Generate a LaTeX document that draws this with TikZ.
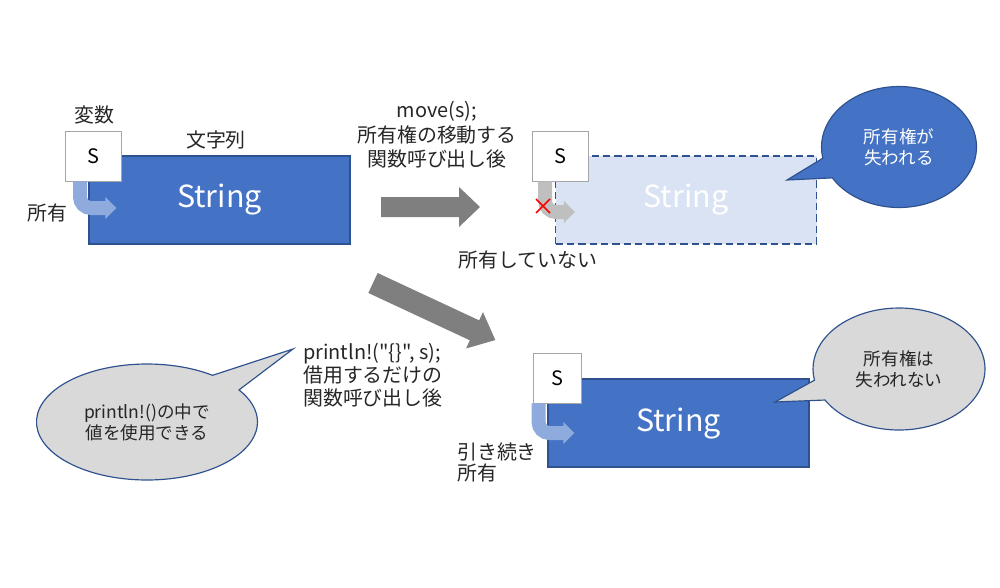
\documentclass[tikz,border=0pt]{standalone}
\usepackage{fontspec}
\setmainfont{Noto Sans CJK JP}
\newfontfamily\plaincjk{Noto Sans CJK JP}
\usetikzlibrary{shapes.callouts,shapes.geometric,arrows.meta,calc}
\definecolor{blueF}{HTML}{4472C4}
\definecolor{blueD}{HTML}{2F528F}
\definecolor{blueL}{HTML}{DAE3F3}
\definecolor{arrowL}{HTML}{8FAADC}
\definecolor{greyA}{HTML}{7F7F7F}
\definecolor{greyB}{HTML}{BFBFBF}
\definecolor{greyC}{HTML}{D9D9D9}
\definecolor{boxB}{HTML}{A6A6A6}
\definecolor{txt}{HTML}{262626}
\begin{document}
\begin{tikzpicture}[x=0.3mm,y=-0.3mm,
  strbox/.style={draw=blueD, line width=1pt, fill=blueF, text=white, inner sep=0,
    font=\fontsize{26}{30}\selectfont, minimum width=0.3mm*261, minimum height=0.3mm*88},
  ghostbox/.style={strbox, fill=blueL, dash pattern=on 2.2mm off 1.2mm},
  sbox/.style={draw=boxB, line width=0.8pt, fill=white, inner sep=0, text=black,
    font=\fontsize{17}{20}\selectfont, minimum width=0.3mm*56, minimum height=0.3mm*50},
  lbl/.style={inner sep=0, text=txt, font=\fontsize{17}{21}\selectfont, align=center},
  bent/.style={line width=0.3mm*14, rounded corners=0.3mm*11, line cap=butt,
    -{Triangle[length=0.3mm*11,width=0.3mm*21]}},
  callt/.style={ellipse callout, draw=blueD, line width=1pt, inner sep=0, align=center,
    font=\fontsize{15}{18}\selectfont, callout pointer arc=20},
  bigarrow/.style={fill=greyA}
]
\useasboundingbox (0,0) rectangle (1000,587);

% ---- left group
\node[strbox] (str1) at (219.5,200) {String};
\node[sbox] (s1) at (93.5,156) {S};
\draw[bent, arrowL] ($(s1.south west)+(15,0)$) |- ($(str1.west)+(28,8)$);
\node[lbl] (lvar) at (94,115) {変数};
\node[lbl] (lstr) at (216,140) {文字列};
\node[lbl] (lown1) at (47,213) {所有};

% ---- move arrow
\begin{scope}[shift={(381,207)}]
  \fill[bigarrow] (0,-10) -- (78,-10) -- (78,-20) -- (99,0) -- (78,20) -- (78,10) -- (0,10) -- cycle;
\end{scope}
\node[lbl] (lmove) at (437,135) {move(s);\\所有権の移動する\\関数呼び出し後};

% ---- moved group
\node[ghostbox] (str2) at (686,200) {String};
\node[sbox] (s2) at (560.5,156) {S};
\draw[bent, greyB] ($(s2.south west)+(13,0)$) |- ($(str2.west)+(20,12)$);
\coordinate (xc) at (543,206);
\draw[red, line width=1.3pt] ($(xc)+(-7,-7)$) -- ($(xc)+(7,7)$) ($(xc)+(-7,7)$) -- ($(xc)+(7,-7)$);
\node[lbl] (lnot) at (528,260) {所有していない};
\node[callt, fill=blueF, text=white, minimum width=0.3mm*155, minimum height=0.3mm*121,
  callout absolute pointer={(787,180)}] (c1) at (899,147) {所有権が\\失われる};

% ---- borrow arrow
\begin{scope}[shift={(373,283)}, rotate=-25]
  \fill[bigarrow] (0,-11) -- (112,-11) -- (112,-20) -- (135,0) -- (112,20) -- (112,11) -- (0,11) -- cycle;
\end{scope}
\node[lbl, anchor=west, align=left, font=\plaincjk\fontsize{17}{19.6}\selectfont] (lprint) at (303,375)
  {println!(\char"22\{\}\char"22, s);\\借用するだけの\\関数呼び出し後};

% ---- borrowed group
\node[strbox] (str3) at (678.5,423) {String};
\node[sbox, minimum width=0.3mm*48] (s3) at (557,378) {S};
\draw[bent, arrowL] ($(s3.south west)+(6,0)$) |- ($(str3.west)+(27,10)$);
\node[lbl, anchor=west, align=left, font=\fontsize{17}{18}\selectfont] (lkeep) at (457,462.5) {引き続き\\所有};
\node[callt, fill=greyC, text=txt, minimum width=0.3mm*172, minimum height=0.3mm*122,
  callout absolute pointer={(775,402)}] (c2) at (899,369) {所有権は\\失われない};
\node[callt, fill=greyC, text=txt, minimum width=0.3mm*221, minimum height=0.3mm*116,
  callout absolute pointer={(293,349)}] (c3) at (147,422) {println!()の中で\\値を使用できる};
\end{tikzpicture}
\end{document}
